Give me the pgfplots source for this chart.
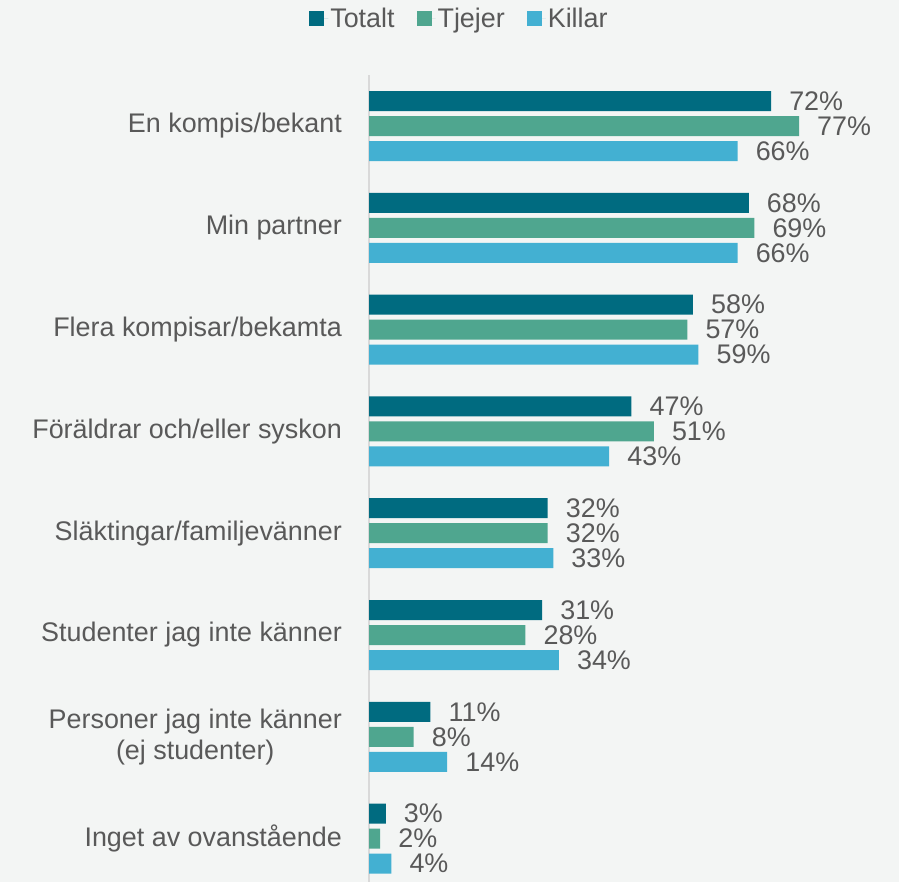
\documentclass[border=0pt]{standalone}
\usepackage{fontspec}
\setmainfont{Liberation Sans}
\usepackage{pgfplots}
\pgfplotsset{compat=1.18}
\definecolor{bg}{RGB}{243,245,244}
\definecolor{totalt}{RGB}{0,107,128}
\definecolor{tjejer}{RGB}{79,166,143}
\definecolor{killar}{RGB}{67,176,210}
\definecolor{textgray}{RGB}{89,89,89}
\definecolor{linegray}{RGB}{217,217,217}
\newcommand{\lab}{\fontsize{27}{31}\selectfont}
\begin{document}
\begin{tikzpicture}[x=1bp,y=1bp]
\fill[bg] (0,0) rectangle (899,882);
\path[use as bounding box] (0,0) rectangle (899,882);
\begin{axis}[
    at={(369bp,-7.5bp)}, anchor=south west,
    scale only axis, width=502.6bp, height=814.4bp,
    xmin=0, xmax=90, ymin=-0.5, ymax=7.5,
    y dir=reverse, xbar, bar width=20bp, clip=false,
    axis x line=none, axis y line*=left,
    y axis line style={draw=linegray, line width=2bp, -},
    ytick={0,...,7}, major tick length=0pt,
    yticklabels={En kompis/bekant, Min partner, Flera kompisar/bekamta,
        Föräldrar och/eller syskon, Släktingar/familjevänner,
        Studenter jag inte känner, {Personer jag inte känner\\(ej studenter)},
        Inget av ovanstående},
    yticklabel style={align=center, font=\lab, text=textgray, inner sep=0pt, xshift=-27bp},
    /pgf/number format/assume math mode=true,
    nodes near coords={\pgfmathprintnumber{\pgfplotspointmeta}\%},
    every node near coord/.append style={font=\lab, text=textgray, inner sep=0pt, xshift=18bp},
    legend columns=3,
    legend style={draw=none, fill=none, at={(0.18,1)}, anchor=center, yshift=57bp,
        font=\lab, text=textgray,
        /tikz/every even column/.append style={column sep=20bp}},
    legend image code/.code={\fill[#1, draw=none] (0bp,-7.5bp) rectangle (15bp,7.5bp);
        \path (0bp,0bp) -- (19bp,0bp);},
]
\addplot[fill=totalt, draw=none, bar shift=25bp] coordinates {
(72,0) (68,1) (58,2) (47,3) (32,4) (31,5) (11,6) (3,7)};
\addlegendentry{Totalt}
\addplot[fill=tjejer, draw=none, bar shift=0bp] coordinates {
(77,0) (69,1) (57,2) (51,3) (32,4) (28,5) (8,6) (2,7)};
\addlegendentry{Tjejer}
\addplot[fill=killar, draw=none, bar shift=-25bp] coordinates {
(66,0) (66,1) (59,2) (43,3) (33,4) (34,5) (14,6) (4,7)};
\addlegendentry{Killar}
\end{axis}
\end{tikzpicture}
\end{document}
